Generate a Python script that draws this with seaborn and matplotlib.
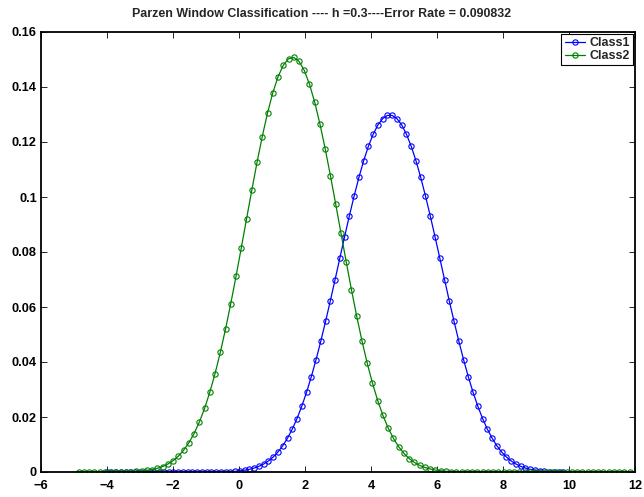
import matplotlib
matplotlib.use("Agg")
import matplotlib.pyplot as plt
import seaborn as sns
import pandas as pd
from matplotlib.ticker import FuncFormatter

# ---- data ----
class1_x = [-4.010, -3.866, -3.722, -3.577, -3.433, -3.289, -3.145, -3.001, -2.856, -2.712,
            -2.568, -2.424, -2.280, -2.135, -1.991, -1.847, -1.703, -1.559, -1.414, -1.270,
            -1.126, -0.982, -0.838, -0.693, -0.549, -0.405, -0.261, -0.117, 0.028, 0.172,
            0.316, 0.460, 0.604, 0.749, 0.893, 1.037, 1.181, 1.325, 1.470, 1.614,
            1.758, 1.902, 2.046, 2.191, 2.335, 2.479, 2.623, 2.767, 2.912, 3.056,
            3.200, 3.344, 3.488, 3.633, 3.777, 3.921, 4.065, 4.209, 4.354, 4.498,
            4.642, 4.786, 4.930, 5.075, 5.219, 5.363, 5.507, 5.651, 5.796, 5.940,
            6.084, 6.228, 6.372, 6.517, 6.661, 6.805, 6.949, 7.093, 7.238, 7.382,
            7.526, 7.670, 7.814, 7.959, 8.103, 8.247, 8.391, 8.535, 8.680, 8.824,
            8.968, 9.112, 9.256, 9.401, 9.545, 9.689, 9.833]
class1_y = [0.0, 0.0, 0.0, 0.0, 0.0, 0.0, 0.0, 0.0, 0.0, 0.0,
            0.0, 0.0, 0.0, 0.0, 0.0, 0.0, 0.0, 0.0, 0.0, 0.0,
            0.000005, 0.00001, 0.000018, 0.000032, 0.000057, 0.000097, 0.000162, 0.000263, 0.000417, 0.000643,
            0.000968, 0.001426, 0.002054, 0.002906, 0.004022, 0.005463, 0.007277, 0.009531, 0.01230, 0.01558,
            0.01944, 0.02390, 0.02895, 0.03464, 0.04086, 0.04759, 0.05474, 0.06223, 0.06999, 0.07780,
            0.08557, 0.09312, 0.10035, 0.10710, 0.11315, 0.11844, 0.12280, 0.12619, 0.12850, 0.12966,
            0.12966, 0.12850, 0.12622, 0.12280, 0.11844, 0.11315, 0.10710, 0.10035, 0.09312, 0.08557,
            0.07780, 0.06999, 0.06223, 0.05474, 0.04759, 0.04086, 0.03464, 0.02895, 0.02390, 0.01944,
            0.01558, 0.01230, 0.00953, 0.00728, 0.00546, 0.00402, 0.00291, 0.00205, 0.00143, 0.00097,
            0.00064, 0.00042, 0.00026, 0.00016, 0.00010, 0.00006, 0.00003]

class2_x = [-4.860, -4.701, -4.542, -4.383, -4.224, -4.065, -3.906, -3.747, -3.588, -3.429,
            -3.270, -3.111, -2.952, -2.793, -2.634, -2.475, -2.316, -2.157, -1.998, -1.839,
            -1.680, -1.521, -1.362, -1.203, -1.044, -0.885, -0.726, -0.567, -0.408, -0.249,
            -0.090, 0.069, 0.228, 0.387, 0.546, 0.705, 0.864, 1.023, 1.182, 1.341,
            1.500, 1.659, 1.818, 1.977, 2.136, 2.295, 2.454, 2.613, 2.772, 2.931,
            3.090, 3.249, 3.408, 3.567, 3.726, 3.885, 4.044, 4.203, 4.362, 4.521,
            4.680, 4.839, 4.998, 5.157, 5.316, 5.475, 5.634, 5.793, 5.952, 6.111,
            6.270, 6.429, 6.588, 6.747, 6.906, 7.065, 7.224, 7.383, 7.542, 7.701,
            7.860, 8.019, 8.178, 8.337, 8.496, 8.655, 8.814, 8.973, 9.132, 9.291,
            9.450, 9.609, 9.768, 9.927, 10.086, 10.245, 10.404, 10.563, 10.722, 10.881,
            11.040, 11.199, 11.358, 11.517, 11.676, 11.835]
class2_y = [0.0, 0.0, 0.000002, 0.000004, 0.000006, 0.00001, 0.000015, 0.000024, 0.000044, 0.000077,
            0.000132, 0.00022, 0.00036, 0.00057, 0.00088, 0.00134, 0.00199, 0.00289, 0.00412, 0.00575,
            0.00788, 0.01059, 0.01397, 0.01812, 0.02311, 0.02900, 0.03577, 0.04346, 0.05200, 0.06127,
            0.07118, 0.08149, 0.09200, 0.10245, 0.11256, 0.12200, 0.13053, 0.13785, 0.14368, 0.14788,
            0.15026, 0.15074, 0.14932, 0.14605, 0.14101, 0.13443, 0.12649, 0.11747, 0.10766, 0.09736,
            0.08685, 0.07640, 0.06626, 0.05664, 0.04771, 0.03958, 0.03233, 0.02600, 0.02055, 0.01599,
            0.01222, 0.00918, 0.00676, 0.00489, 0.00347, 0.00241, 0.00164, 0.00109, 0.00071, 0.00045,
            0.00028, 0.00017, 0.00010, 0.00006, 0.00003, 0.00002, 0.00001, 0.0, 0.0, 0.0,
            0.0, 0.0, 0.0, 0.0, 0.0, 0.0, 0.0, 0.0, 0.0, 0.0,
            0.0, 0.0, 0.0, 0.0, 0.0, 0.0, 0.0, 0.0, 0.0, 0.0,
            0.0, 0.0, 0.0, 0.0, 0.0, 0.0]

labels = ["Class1", "Class2"]
colors = {"Class1": (0, 0, 1), "Class2": (0, 0.5, 0)}
title_text = "Parzen Window Classification ---- h =0.3----Error Rate = 0.090832"
x_ticks = [-6, -4, -2, 0, 2, 4, 6, 8, 10, 12]
y_ticks = [0, 0.02, 0.04, 0.06, 0.08, 0.1, 0.12, 0.14, 0.16]

# ---- build table ----
df1 = pd.DataFrame({"x": class1_x, "y": class1_y, "cls": labels[0]})
df2 = pd.DataFrame({"x": class2_x, "y": class2_y, "cls": labels[1]})

sns.set_theme(style="ticks")
plt.rcParams["font.family"] = ["Liberation Sans", "DejaVu Sans"]
plt.rcParams["axes.unicode_minus"] = True

fig = plt.figure(figsize=(6.44, 4.97), dpi=100)
ax = fig.add_axes([41 / 644, 25 / 497, 594 / 644, 440 / 497])

for d, lab in ((df1, labels[0]), (df2, labels[1])):
    sns.lineplot(data=d, x="x", y="y", ax=ax, color=colors[lab], label=lab,
                 estimator=None, sort=False, linewidth=0.9, marker="o",
                 markersize=3.8, markerfacecolor="none", markeredgecolor=colors[lab],
                 markeredgewidth=0.8, legend=False)

ax.set_xlim(-6, 12)
ax.set_ylim(0, 0.16)
ax.set_xticks(x_ticks)
ax.set_yticks(y_ticks)
ax.yaxis.set_major_formatter(FuncFormatter(lambda v, p: "%g" % round(v, 4)))
ax.xaxis.set_major_formatter(FuncFormatter(lambda v, p: ("\u2212%d" % abs(v)) if v < 0 else "%d" % v))
ax.set_xlabel("")
ax.set_ylabel("")

for s in ax.spines.values():
    s.set_visible(True)
    s.set_linewidth(1.3)
    s.set_color("black")

ax.tick_params(axis="both", direction="in", length=4, width=0.6, top=True, right=True,
               labelsize=9.2, colors="black")
ax.tick_params(axis="x", pad=6)
ax.tick_params(axis="y", pad=3)
for lbl in ax.get_xticklabels() + ax.get_yticklabels():
    lbl.set_fontweight("bold")

ttl = ax.set_title(title_text, fontsize=8.9, fontweight="bold", pad=11)
ttl.set_x(0.472)

leg = ax.legend(loc="upper right", frameon=True, fancybox=False, shadow=False,
                borderaxespad=0.15, handlelength=1.6, handletextpad=0.4,
                borderpad=0.25, labelspacing=0.1,
                prop={"weight": "bold", "size": 9})
leg.get_frame().set_edgecolor("black")
leg.get_frame().set_linewidth(0.8)
leg.get_frame().set_alpha(1)

fig.savefig("out.png", dpi=100)
